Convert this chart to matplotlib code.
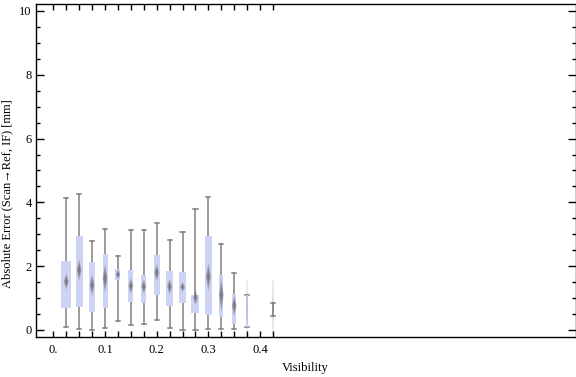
import numpy as np
import matplotlib
matplotlib.use("Agg")
import matplotlib.pyplot as plt
from matplotlib.patches import Polygon, Rectangle

plt.rcParams['font.family'] = ['Liberation Serif', 'DejaVu Serif']

# visibility bins (box centres)
vis = [0.025, 0.05, 0.075, 0.1, 0.125, 0.15, 0.175, 0.2, 0.225, 0.25, 0.275, 0.3, 0.325, 0.35, 0.375, 0.425]
# whisker low / q1 / median / q3 / whisker high  [mm]
w_lo = [0.09, 0.02, 0.00, 0.05, 0.27, 0.15, 0.18, 0.30, 0.05, 0.00, 0.00, 0.02, 0.02, 0.02, 0.09, 0.44]
q1 = [0.70, 0.73, 0.57, 0.70, 1.58, 0.89, 0.86, 1.10, 0.76, 0.86, 0.53, 0.48, 0.42, 0.20, 0.09, 0.44]
med = [1.52, 1.88, 1.41, 1.62, 1.74, 1.38, 1.36, 1.80, 1.36, 1.35, 1.02, 1.67, 1.10, 0.76, 0.70, 0.70]
q3 = [2.16, 2.95, 2.13, 2.38, 1.91, 1.88, 1.72, 2.35, 1.84, 1.82, 1.10, 2.95, 1.72, 1.13, 1.10, 0.84]
w_hi = [4.13, 4.25, 2.78, 3.16, 2.31, 3.12, 3.12, 3.34, 2.81, 3.06, 3.78, 4.17, 2.69, 1.78, 1.10, 0.84]
# median confidence half-range [mm]
med_ci = [0.27, 0.36, 0.36, 0.47, 0.15, 0.26, 0.24, 0.29, 0.26, 0.17, 0.26, 0.47, 0.55, 0.34, 0.9, 0.9]
# relative sample weight (drawn as box width)
weight = [1.0, 0.73, 0.67, 0.5, 0.5, 0.5, 0.47, 0.6, 0.63, 0.77, 0.8, 0.77, 0.37, 0.4, 0.25, 0.0]
# last two bins are very sparse -> drawn faded
sparse = [False]*14 + [True, True]

xticks = [0, 0.1, 0.2, 0.3, 0.4]
xticklabels = ['0.', '0.1', '0.2', '0.3', '0.4']
yticks = [0, 2, 4, 6, 8, 10]

fig = plt.figure(figsize=(5.76, 3.77), dpi=100)
ax = fig.add_axes([36/576, 1-337.3/377, (575.7-36)/576, (337.3-4.3)/377])
ax.set_xlim(-0.0335, 1.0105)
ax.set_ylim(-0.229, 10.21)

box_col = '#ccd3f5'
wcol = '#808080'
full_w = 0.0193
cap = 0.004

for i in range(len(vis)):
	x = vis[i]
	if sparse[i]:
		# faint streak of the sparse bins
		ax.plot([x, x], [-0.2, 1.57], color=wcol, lw=1.2, alpha=0.15, solid_capstyle='butt', zorder=1)
	# whiskers
	ax.plot([x, x], [w_lo[i], w_hi[i]], color=wcol, lw=1.1, zorder=1)
	for yy in (w_lo[i], w_hi[i]):
		ax.plot([x-cap, x+cap], [yy, yy], color=wcol, lw=1.1, zorder=1)
	# box
	bw = full_w*weight[i]
	if bw > 0:
		ax.add_patch(Rectangle((x-bw/2, q1[i]), bw, q3[i]-q1[i], facecolor=box_col, edgecolor='none', zorder=2))
	# blurred diamond median
	hh = med_ci[i]
	hw = 0.0048 if not sparse[i] else 0.002
	al = 0.3 if not sparse[i] else 0.06
	for s in (1.0, 0.8, 0.6, 0.45, 0.3):
		pts = [(x, med[i]+hh*s), (x+hw*s, med[i]), (x, med[i]-hh*s), (x-hw*s, med[i])]
		ax.add_patch(Polygon(pts, closed=True, facecolor='#666666', edgecolor='none', alpha=al, zorder=3))

# ticks
xt = np.arange(0, 0.426, 0.025)
ax.set_xticks(xt)
ax.set_xticklabels([xticklabels[xticks.index(round(v, 3))] if round(v, 3) in xticks else '' for v in xt])
ax.set_yticks(yticks)
ax.set_yticks(np.arange(0, 10.01, 0.5), minor=True)
ax.tick_params(axis='x', direction='in', length=4, width=1, top=True, labelsize=9, pad=5)
ax.tick_params(axis='y', which='major', direction='in', length=6, width=1, right=True, labelsize=9, pad=3)
ax.tick_params(axis='y', which='minor', direction='in', length=3, width=1, right=True)
for sp in ax.spines.values():
	sp.set_linewidth(1.0)

fig.text(305/576, 1-368/377, 'Visibility', ha='center', va='center', fontsize=9)
fig.text(7/576, 1-193.5/377, 'Absolute Error (Scan\u2192Ref, IF) [mm]', rotation=90,
	ha='center', va='center', fontsize=9)

fig.savefig('out.png', dpi=100)
